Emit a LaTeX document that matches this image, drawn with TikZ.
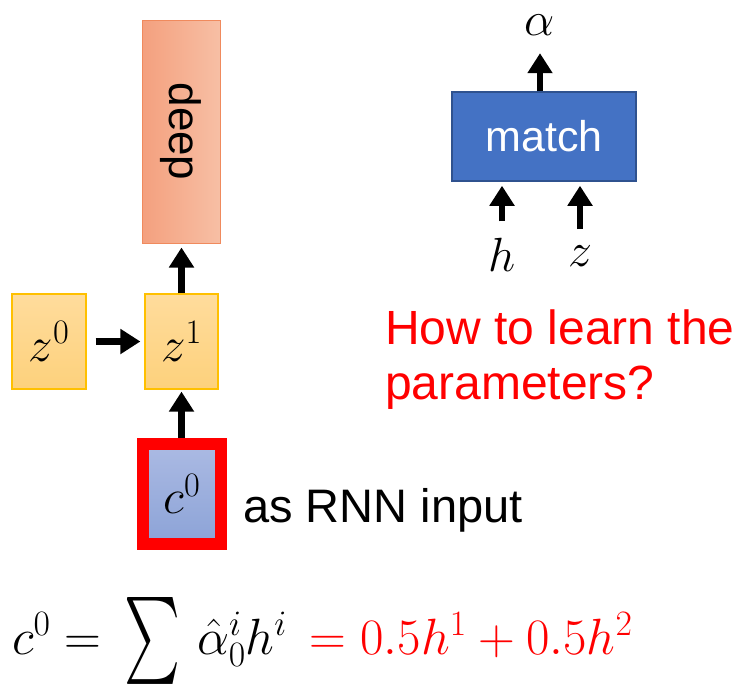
\RequirePackage{fix-cm}
\documentclass[tikz,border=0pt]{standalone}
\usepackage{exscale}
\usepackage{fontspec}
\newfontfamily\slidefont{Liberation Sans}
\usetikzlibrary{arrows.meta}

\definecolor{deepL}{HTML}{F4A07E}
\definecolor{deepR}{HTML}{F7BFA5}
\definecolor{deepline}{HTML}{F08A5D}
\definecolor{ztop}{HTML}{FFDC9C}
\definecolor{zbot}{HTML}{FDD17C}
\definecolor{zline}{HTML}{FFC000}
\definecolor{ctop}{HTML}{ABBAE3}
\definecolor{cbot}{HTML}{8CA3D7}
\definecolor{matchfill}{HTML}{4472C4}
\definecolor{matchline}{HTML}{2F528F}

\newcommand{\bigsum}{\mathop{\vcenter{\hbox{\resizebox{56pt}{88pt}{$\sum$}}}}}

\begin{document}
\begin{tikzpicture}[x=1pt, y=-1pt,
  fatarrow/.style={line width=6.5pt, -{Triangle[width=24pt, length=20pt]}},
  zbox/.style={draw=zline, line width=1.2pt, top color=ztop, bottom color=zbot,
    minimum height=95pt, inner sep=0pt, font=\fontsize{49}{52}\selectfont},
  lbl/.style={inner sep=0pt, font=\fontsize{48}{52}\selectfont}]
  \useasboundingbox (0,0) rectangle (735,688);

  % left column: deep net on top of the RNN steps
  \node[draw=deepline, line width=1pt, left color=deepL, right color=deepR,
    minimum width=78pt, minimum height=223pt, inner sep=0pt,
    font=\slidefont\fontsize{44}{48}\selectfont] (deep) at (181,131.5) {\rotatebox{-90}{deep}};
  \node[zbox, minimum width=74pt] (z0) at (49,341.5) {$z^0$};
  \node[zbox, minimum width=73pt] (z1) at (181.5,341.5) {$z^1$};
  \node[draw=red, line width=12pt, top color=ctop, bottom color=cbot,
    minimum width=78pt, minimum height=100pt, inner sep=0pt,
    font=\fontsize{49}{52}\selectfont] (c0) at (182,494) {$c^0$};
  \node[anchor=base west, inner sep=0pt, font=\slidefont\fontsize{47}{52}\selectfont]
    (rnnin) at (243,522) {as RNN input};

  \draw[fatarrow, shorten <=9pt, shorten >=4pt] (z0) -- (z1);
  \draw[fatarrow, shorten >=4pt] (z1.north) -- (z1.north |- deep.south);
  \draw[fatarrow, shorten >=2pt] (c0.north -| z1) -- (z1.south);

  % match block
  \node[draw=matchline, line width=1.5pt, fill=matchfill, text=white,
    minimum width=184pt, minimum height=89pt, inner sep=0pt,
    font=\slidefont\fontsize{43}{48}\selectfont] (match) at (544,136.5) {match};
  \node[lbl, anchor=base] (alpha) at (540,35) {$\alpha$};
  \node[lbl, anchor=base] (h) at (502,271) {$h$};
  \node[lbl, anchor=base] (z) at (580,266) {$z$};
  \draw[fatarrow, shorten >=18pt] (match.north -| alpha) -- (alpha.south);
  \draw[fatarrow, shorten <=16pt, shorten >=4pt] (h.north) -- (h.north |- match.south);
  \draw[fatarrow, shorten <=16pt, shorten >=4pt] (z.north) -- (z.north |- match.south);

  % question
  \node[anchor=north west, align=left, inner sep=0pt, text=red,
    font=\slidefont\fontsize{48}{55}\selectfont] (quest) at (385,310)
    {How to learn the\\parameters?};

  % formula
  \node[anchor=base west, inner sep=0pt, font=\fontsize{51}{56}\selectfont]
    (formula) at (12,654)
    {$c^0=\,\bigsum\,\hat{\alpha}_0^i h^i \,\color{red}{}=0.5h^1+0.5h^2$};
\end{tikzpicture}
\end{document}
